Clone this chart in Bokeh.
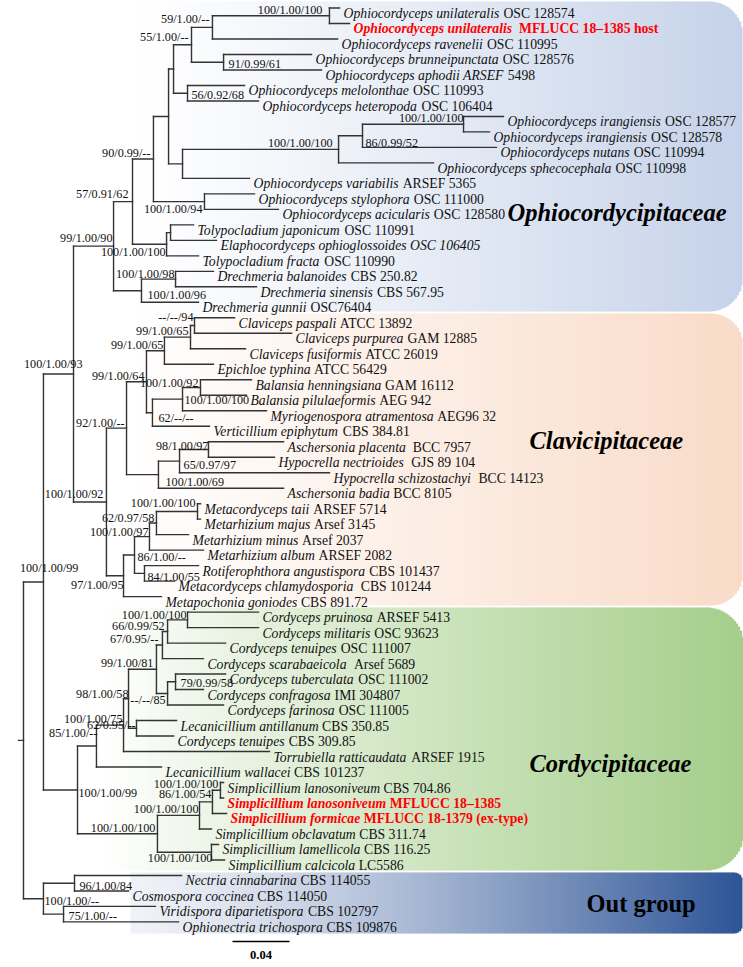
import math
from bokeh.plotting import figure
from bokeh.models import Range1d, ColumnDataSource
from bokeh.embed import file_html
from bokeh.resources import INLINE
from bokeh.core.properties import value

# ---------------------------------------------------------------- data
TAXA_ITALIC = [
    "Ophiocordyceps unilateralis", "Ophiocordyceps unilateralis", "Ophiocordyceps ravenelii",
    "Ophiocordyceps brunneipunctata", "Ophiocordyceps aphodii ARSEF", "Ophiocordyceps melolonthae",
    "Ophiocordyceps heteropoda", "Ophiocordyceps irangiensis", "Ophiocordyceps irangiensis",
    "Ophiocordyceps nutans", "Ophiocordyceps sphecocephala", "Ophiocordyceps variabilis",
    "Ophiocordyceps stylophora", "Ophiocordyceps acicularis", "Tolypocladium japonicum",
    "Elaphocordyceps ophioglossoides OSC 106405", "Tolypocladium fracta", "Drechmeria balanoides",
    "Drechmeria sinensis", "Drechmeria gunnii",
    "Claviceps paspali", "Claviceps purpurea", "Claviceps fusiformis", "Epichloe typhina",
    "Balansia henningsiana", "Balansia pilulaeformis", "Myriogenospora atramentosa",
    "Verticillium epiphytum", "Aschersonia  placenta", "Hypocrella  nectrioides",
    "Hypocrella  schizostachyi", "Aschersonia badia", "Metacordyceps taii", "Metarhizium majus",
    "Metarhizium minus", "Metarhizium album", "Rotiferophthora angustispora",
    "Metacordyceps  chlamydosporia", "Metapochonia goniodes",
    "Cordyceps pruinosa", "Cordyceps militaris", "Cordyceps tenuipes", "Cordyceps scarabaeicola",
    "Cordyceps tuberculata", "Cordyceps confragosa", "Cordyceps farinosa", "Lecanicillium antillanum",
    "Cordyceps tenuipes", "Torrubiella ratticaudata", "Lecanicillium wallacei",
    "Simplicillium lanosoniveum", "Simplicillium lanosoniveum", "Simplicillium formicae",
    "Simplicillium obclavatum", "Simplicillium lamellicola", "Simplicillium calcicola",
    "Nectria cinnabarina", "Cosmospora coccinea", "Viridispora diparietispora",
    "Ophionectria trichospora",
]
TAXA_STRAIN = [
    "OSC 128574", " MFLUCC 18\u20131385 host", "OSC 110995", "OSC 128576", "5498", "OSC 110993",
    "OSC 106404", "OSC 128577", "OSC 128578", "OSC 110994", "OSC 110998", "ARSEF 5365",
    "OSC 111000", "OSC 128580", "OSC 110991", "", "OSC 110990", "CBS 250.82", "CBS 567.95",
    "OSC76404",
    "ATCC 13892", "GAM 12885", "ATCC 26019", "ATCC 56429", "GAM 16112", "AEG 942", "AEG96 32",
    "CBS 384.81", "BCC 7957", "GJS 89 104", "BCC 14123", "BCC 8105", "ARSEF 5714", "Arsef 3145",
    "Arsef 2037", "ARSEF 2082", "CBS 101437", "CBS 101244", "CBS 891.72",
    "ARSEF 5413", "OSC 93623", "OSC 111007", " Arsef 5689", "OSC 111002", "IMI 304807",
    "OSC 111005", "CBS 350.85", "CBS 309.85", "ARSEF 1915", "CBS 101237",
    "CBS 704.86", "MFLUCC 18\u20131385", "MFLUCC 18-1379 (ex-type)", "CBS 311.74", "CBS 116.25",
    "LC5586",
    "CBS 114055", "CBS 114050", "CBS 102797", "CBS 109876",
]
HIGHLIGHT = [1, 51, 52]

# tip depth from the root (substitutions per site)
TIP_DEPTH = [
    0.2218, 0.2288, 0.2204, 0.2021, 0.2091, 0.1551, 0.1649, 0.3368, 0.3270, 0.3319,
    0.2877, 0.1586, 0.1621, 0.1789, 0.1193, 0.1354, 0.1228, 0.1333, 0.1635, 0.1228,
    0.1481, 0.1881, 0.1558, 0.1333, 0.1600, 0.1565, 0.1705, 0.1305, 0.1825, 0.1761,
    0.2147, 0.1825, 0.1242, 0.1242, 0.1158, 0.1263, 0.1228, 0.1060, 0.0968, 0.1649,
    0.1649, 0.1418, 0.1263, 0.1418, 0.1263, 0.1404, 0.1074, 0.1053, 0.1726, 0.0968,
    0.1404, 0.1404, 0.1425, 0.1319, 0.1368, 0.1411, 0.1109, 0.0737, 0.0926, 0.1088,
]

# internal nodes: name -> (depth, support ML/PP/MP, children)
NODES = {
    "root": (0.0000, None, ["T", "U"]),
    "T":    (0.0140, "100/1.00/99", ["R", "Co11"]),
    "R":    (0.0351, "100/1.00/93", ["Q", "S"]),
    "Q":    (0.0632, "99/1.00/90", ["M", "O"]),
    "M":    (0.0765, "57/0.91/62", ["K", "N"]),
    "K":    (0.0912, "90/0.99/--", ["G", "L"]),
    "G":    (0.1018, None, ["E", "I"]),
    "E":    (0.1053, None, ["C", "F"]),
    "C":    (0.1179, "55/1.00/--", ["B", "D"]),
    "B":    (0.1326, "59/1.00/--", ["A", 2]),
    "A":    (0.2147, "100/1.00/100", [0, 1]),
    "D":    (0.1404, "91/0.99/61", [3, 4]),
    "F":    (0.1151, "56/0.92/68", [5, 6]),
    "I":    (0.1116, None, ["J", 11]),
    "J":    (0.2211, "100/1.00/100", ["J2", 10]),
    "J2":   (0.2379, "86/0.99/52", ["J1", 9]),
    "J1":   (0.3088, "100/1.00/100", [7, 8]),
    "L":    (0.1270, "100/1.00/94", [12, 13]),
    "N":    (0.1004, "100/1.00/100", ["N2", 16]),
    "N2":   (0.1032, None, [14, 15]),
    "O":    (0.0828, "100/1.00/96", ["P", 19]),
    "P":    (0.1067, "100/1.00/98", [17, 18]),
    "S":    (0.0582, "100/1.00/92", ["Cl8", "Cl18"]),
    "Cl8":  (0.0723, "92/1.00/--", ["Cl7", "Cl12"]),
    "Cl7":  (0.0863, "99/1.00/64", ["Cl3", "Cl6"]),
    "Cl3":  (0.0989, "99/1.00/65", ["Cl2", 23]),
    "Cl2":  (0.1172, "99/1.00/65", ["Cl1", 22]),
    "Cl1":  (0.1200, "--/--/94", [20, 21]),
    "Cl6":  (0.0905, "62/--/--", ["Cl5", 27]),
    "Cl5":  (0.1116, "100/1.00/100", ["Cl4", 26]),
    "Cl4":  (0.1242, "100/1.00/92", [24, 25]),
    "Cl12": (0.0947, "100/1.00/69", ["Cl11", 31]),
    "Cl11": (0.1095, "65/0.97/97", ["Cl10", 30]),
    "Cl10": (0.1298, "98/1.00/97", [28, 29]),
    "Cl18": (0.0702, "97/1.00/95", ["Cl17", 38]),
    "Cl17": (0.0779, "86/1.00/--", ["Cl15", "Cl16"]),
    "Cl15": (0.0884, "100/1.00/97", ["Cl14", 35]),
    "Cl14": (0.0933, "62/0.97/58", ["Cl13", 34]),
    "Cl13": (0.1221, "100/1.00/100", [32, 33]),
    "Cl16": (0.0849, "84/1.00/55", [36, 37]),
    "Co11": (0.0379, "100/1.00/99", ["Co10", "Si_e"]),
    "Co10": (0.0512, "85/1.00/--", ["Co9", 49]),
    "Co9":  (0.0702, "100/1.00/75", ["Co8", 48]),
    "Co8":  (0.0737, "98/1.00/58", ["Co6", "Co7"]),
    "Co6":  (0.0933, "99/1.00/81", ["Co3", "Co5"]),
    "Co3":  (0.0975, "67/0.95/--", ["Co2", 42]),
    "Co2":  (0.1011, "66/0.99/52", ["Co1", 41]),
    "Co1":  (0.1151, "100/1.00/100", [39, 40]),
    "Co5":  (0.1011, "--/--/85", ["Co4", 45]),
    "Co4":  (0.1067, "79/0.99/58", [43, 44]),
    "Co7":  (0.0793, "62/0.95/--", [46, 47]),
    "Si_e": (0.0940, "100/1.00/100", ["Si_c", "Si_d"]),
    "Si_c": (0.1235, "100/1.00/100", ["Si_b", 53]),
    "Si_b": (0.1326, "86/1.00/54", ["Si_a", 52]),
    "Si_a": (0.1382, "100/1.00/100", [50, 51]),
    "Si_d": (0.1319, "100/1.00/100", [54, 55]),
    "U":    (0.0140, "100/1.00/--", ["V", "W"]),
    "V":    (0.0358, "96/1.00/84", [56, 57]),
    "W":    (0.0281, "75/1.00/--", [58, 59]),
}

FAMILIES = ["Ophiocordycipitaceae", "Clavicipitaceae", "Cordycipitaceae", "Out group"]
SCALE_BAR = 0.04
SCALE_LABEL = "0.04"

# ---------------------------------------------------------------- layout / style
W, H = 743, 967
PXU = 57 / SCALE_BAR          # px per substitution unit
ROOT_PX = 23.0                # canvas x of the root
ROW0_PX = 7.5                 # canvas y of the first tip line
ROW_PX = 15.49                # tip spacing in px
ROOT_STUB = 5 / PXU


def X(px):
    return (px - ROOT_PX) / PXU


def Y(px):
    return (px - ROW0_PX) / ROW_PX


# label placement relative to the node: (align, dx px, dy px of the text centre)
LABEL_POS = {
    "A": ("right", -7, -6), "B": ("right", -3, -8), "C": ("right", -3, -8),
    "D": ("left", 5, 2), "F": ("left", 4, 2), "J1": ("right", 0, -6),
    "J2": ("left", 3, 7), "J": ("right", -6, -6), "K": ("right", -3, -6),
    "L": ("right", -2, 7), "M": ("right", -4, -8), "N": ("right", -1, 8),
    "P": ("right", -1, -5), "O": ("left", 6, 4), "Q": ("right", -1, -8),
    "R": ("right", 9, -10), "Cl1": ("right", -1, -9), "Cl2": ("right", -2, -6),
    "Cl3": ("right", -1, -6), "Cl4": ("right", -2, -5), "Cl5": ("left", 2, 1),
    "Cl6": ("left", 6, 5), "Cl7": ("right", -2, -6), "Cl8": ("right", -2, -5),
    "Cl10": ("right", 0, -3), "Cl11": ("left", 4, 4), "Cl12": ("left", 7, 7),
    "Cl13": ("right", -2, -8), "Cl14": ("right", -2, -5), "Cl15": ("right", -1, -5),
    "Cl16": ("left", 3, 4), "Cl17": ("left", 3, 2), "Cl18": ("right", 0, 9),
    "S": ("right", -3, -8), "T": ("right", 35, -14),
    "Co1": ("right", -1, -5), "Co2": ("right", -3, -5), "Co3": ("right", -4, -6),
    "Co4": ("left", 5, 1), "Co5": ("right", -2, 7), "Co6": ("right", -3, -6),
    "Co7": ("right", -1, -3), "Co8": ("right", 0, -5), "Co9": ("right", -1, -6),
    "Co10": ("right", 1, -13), "Co11": ("left", 1, 3),
    "Si_a": ("right", -2, -6), "Si_b": ("right", -1, -8), "Si_c": ("right", -1, -6),
    "Si_d": ("right", 1, 6), "Si_e": ("right", -2, -6),
    "U": ("left", 1, 2), "V": ("left", 5, 3), "W": ("left", 5, 2),
}

# font metrics (Times / Liberation Serif, 1/1000 em)
LOW = "abcdefghijklmnopqrstuvwxyz"
UP = "ABCDEFGHIJKLMNOPQRSTUVWXYZ"
MET = {
    "normal": ([444,500,444,500,444,333,500,500,278,278,500,278,778,500,500,500,500,333,389,278,500,500,722,500,500,444],
               [722,667,667,722,611,556,722,722,333,389,722,611,889,722,722,556,722,667,556,611,722,722,944,722,722,611]),
    "italic": ([500,500,444,500,444,278,500,500,278,278,444,278,722,500,500,500,500,389,389,278,500,444,667,444,444,389],
               [611,611,667,722,611,611,722,722,333,444,667,556,833,667,722,611,722,611,500,556,722,611,833,611,556,556]),
    "bold": ([500,556,444,556,444,333,500,556,278,333,556,278,833,556,500,556,556,444,389,333,556,500,722,500,500,444],
             [722,667,722,722,667,611,778,778,389,500,778,667,944,722,778,611,778,722,556,667,722,722,1000,722,722,667]),
    "bold italic": ([500,500,444,500,444,333,500,556,278,278,500,278,778,556,500,500,500,389,389,278,556,444,667,500,444,389],
                    [667,667,667,722,667,667,722,778,389,500,667,611,889,722,722,611,722,667,556,611,722,667,889,667,611,611]),
}
TABLES = {}
for k, (lo, up) in MET.items():
    t = {c: w for c, w in zip(LOW, lo)}
    t.update({c: w for c, w in zip(UP, up)})
    t.update({" ": 250, ".": 250, "-": 333, "\u2013": 500, "/": 278, "(": 333, ")": 333})
    t.update({d: 500 for d in "0123456789"})
    TABLES[k] = t


def tw(s, style, fs):
    tb = TABLES[style]
    return sum(tb.get(c, 500) for c in s) * fs / 1000.0


FONT = value("Liberation Serif")
TAXON_FS = 13.7
SUP_FS = 12.2
LINE_COL = "#333333"
TEXT_COL = "#111111"
RED = "#ff0000"
TAXON_DY = 5.5   # text centre below the tip line (px)

# ---------------------------------------------------------------- figure
p = figure(width=W, height=H, output_backend="svg", toolbar_location=None, title=None,
           x_range=Range1d(X(0), X(W)), y_range=Range1d(Y(H), Y(0)),
           x_axis_location=None, y_axis_location=None, min_border=0,
           background_fill_color="white", border_fill_color="white")
p.outline_line_color = None
p.xgrid.visible = False
p.ygrid.visible = False

# gradient panels: (left, right, top, bottom, radius, left colour, right colour, gamma) in px
PANELS = [
    (130, 742, 1, 311, 34, (255, 255, 255), (197, 210, 233), 1.15),
    (130, 742, 313, 605, 32, (255, 255, 255), (249, 219, 200), 1.0),
    (105, 743, 607, 870, 38, (255, 255, 255), (165, 206, 138), 0.9),
    (130, 742, 872, 933, 9, (240, 242, 248), (45, 84, 150), 1.3),
]


def hexc(c):
    return "#%02x%02x%02x" % tuple(int(round(v)) for v in c)


for (l, r, t, b, rad, c0, c1, g) in PANELS:
    L, Rr, T_, B_, cols = [], [], [], [], []
    x = l
    while x < r:
        xm = x + 1
        cx = r - rad
        inset = 0.0
        if xm > cx:
            d = min(xm - cx, rad)
            inset = rad - math.sqrt(max(rad * rad - d * d, 0))
        f = ((xm - l) / (r - l)) ** g
        col = tuple(a + (bb - a) * f for a, bb in zip(c0, c1))
        L.append(X(x)); Rr.append(X(min(x + 2.7, r)))
        T_.append(Y(t + inset)); B_.append(Y(b - inset))
        cols.append(hexc(col))
        x += 2
    p.quad(left=L, right=Rr, top=T_, bottom=B_, fill_color=cols, line_color=None)

# ---------------------------------------------------------------- tree
ys = {}


def ny(n):
    if isinstance(n, int):
        return float(n)
    if n not in ys:
        ch = [ny(c) for c in NODES[n][2]]
        ys[n] = (min(ch) + max(ch)) / 2.0
    return ys[n]


def dep(n):
    return TIP_DEPTH[n] if isinstance(n, int) else NODES[n][0]


ny("root")
x0, y0, x1, y1 = [], [], [], []
for n, (d, s, ch) in NODES.items():
    cy = [ny(c) for c in ch]
    x0.append(d); y0.append(min(cy)); x1.append(d); y1.append(max(cy))
    for c in ch:
        x0.append(d); y0.append(ny(c)); x1.append(dep(c)); y1.append(ny(c))
x0.append(-ROOT_STUB); y0.append(ys["root"]); x1.append(0.0); y1.append(ys["root"])
p.segment(x0, y0, x1, y1, line_color=LINE_COL, line_width=1.4, line_cap="square")

# ---------------------------------------------------------------- tip labels
groups = {}
for i, (it, st) in enumerate(zip(TAXA_ITALIC, TAXA_STRAIN)):
    hl = i in HIGHLIGHT
    ist = "bold italic" if hl else "italic"
    rst = "bold" if hl else "normal"
    g = groups.setdefault((ist, hl), {"x": [], "y": [], "t": [], "xo": []})
    g["x"].append(TIP_DEPTH[i]); g["y"].append(i); g["t"].append(it); g["xo"].append(4.0)
    if st.strip():
        lead = len(st) - len(st.lstrip())
        off = 4.0 + tw(it + " ", ist, TAXON_FS) + lead * 250 * TAXON_FS / 1000.0
        g = groups.setdefault((rst, hl), {"x": [], "y": [], "t": [], "xo": []})
        g["x"].append(TIP_DEPTH[i]); g["y"].append(i); g["t"].append(st.strip()); g["xo"].append(off)

for (style, hl), g in groups.items():
    src = ColumnDataSource(g)
    p.text(x="x", y="y", text="t", x_offset="xo", y_offset=TAXON_DY, source=src,
           text_font=FONT, text_font_size=value("%.1fpx" % TAXON_FS), text_font_style=style,
           text_color=RED if hl else TEXT_COL, text_align="left", text_baseline="alphabetic")

# ---------------------------------------------------------------- support values
for align in ("left", "right"):
    d = {"x": [], "y": [], "t": [], "xo": [], "yo": []}
    for n, (dd, s, ch) in NODES.items():
        if not s or LABEL_POS[n][0] != align:
            continue
        _, dx, dy = LABEL_POS[n]
        d["x"].append(dd); d["y"].append(ys[n]); d["t"].append(s)
        d["xo"].append(dx); d["yo"].append(dy)
    p.text(x="x", y="y", text="t", x_offset="xo", y_offset="yo", source=ColumnDataSource(d),
           text_font=FONT, text_font_size=value("%.1fpx" % SUP_FS), text_color=TEXT_COL,
           text_align=align, text_baseline="alphabetic")

# ---------------------------------------------------------------- family names
FAM_POS = [(507, 212, "bold italic"), (529, 440, "bold italic"),
           (529, 763, "bold italic"), (586, 903, "bold")]
for name, (fx, fy, fst) in zip(FAMILIES, FAM_POS):
    p.text(x=[X(fx)], y=[Y(fy)], text=[name], text_font=FONT, text_font_size=value("24.5px"),
           text_font_style=fst, text_color="#000000", text_align="left",
           text_baseline="alphabetic")

# ---------------------------------------------------------------- scale bar
sx0 = X(232)
p.segment(x0=[sx0], y0=[Y(941)], x1=[sx0 + SCALE_BAR], y1=[Y(941)],
          line_color="#000000", line_width=1.5)
p.text(x=[sx0 + SCALE_BAR / 2], y=[Y(954)], text=[SCALE_LABEL], text_font=FONT,
       text_font_size=value("12.5px"), text_font_style="bold", text_color="#000000",
       text_align="center", text_baseline="alphabetic")

open("out.html", "w").write(file_html(p, INLINE))
